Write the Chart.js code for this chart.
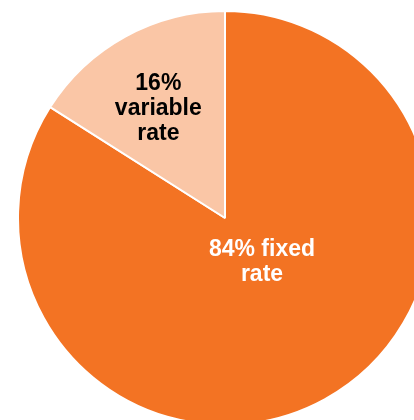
<!DOCTYPE html>
<html lang="en">
<head>
  <meta charset="UTF-8">
  <title>Fixed vs variable rate</title>
  <script src="https://cdn.jsdelivr.net/npm/chart.js"></script>
  <style>
    html, body { margin: 0; padding: 0; background: #fff; overflow: hidden; }
    body { width: 414px; height: 420px; position: relative; }
    .grafico { position: absolute; left: 17px; top: 10px; width: 416px; height: 416px; }
  </style>
</head>
<body>
  <div class="grafico">
    <canvas id="myChart" width="416" height="416"></canvas>
  </div>
<script>
  // dados do gráfico
  const categorias = ['fixed rate', 'variable rate'];
  const valores = [84, 16];
  const rotulos = [['84% fixed', 'rate'], ['16%', 'variable', 'rate']];

  // desenha os rótulos dentro de cada fatia
  const rotulosPlugin = {
    id: 'rotulosFatias',
    afterDatasetsDraw(chart, args, opts) {
      const ctx = chart.ctx;
      const arcs = chart.getDatasetMeta(0).data;
      ctx.save();
      ctx.font = 'bold 23px "Liberation Sans", Arial, sans-serif';
      ctx.textAlign = 'center';
      ctx.textBaseline = 'middle';
      arcs.forEach(function (arc, i) {
        const pos = opts.posicoes[i];
        const ang = (pos.angulo - 90) * Math.PI / 180;
        const r = arc.outerRadius * pos.raio;
        const cx = arc.x + Math.cos(ang) * r;
        const cy = arc.y + Math.sin(ang) * r;
        const linhas = rotulos[i];
        const alt = 25;
        ctx.fillStyle = opts.cores[i];
        linhas.forEach(function (txt, j) {
          ctx.fillText(txt, cx, cy + (j - (linhas.length - 1) / 2) * alt);
        });
      });
      ctx.restore();
    }
  };

  const config = {
    type: 'pie',
    data: {
      labels: categorias,
      datasets: [{
        data: valores,
        backgroundColor: ['rgb(243, 115, 35)', 'rgb(250, 198, 166)'],
        borderColor: '#ffffff',
        borderWidth: 2
      }]
    },
    options: {
      responsive: false,
      animation: false,
      events: [],
      plugins: {
        legend: { display: false },
        tooltip: { enabled: false },
        rotulosFatias: {
          cores: ['#ffffff', '#000000'],
          posicoes: [{ angulo: 140, raio: 0.278 }, { angulo: -31.3, raio: 0.62 }]
        }
      }
    },
    plugins: [rotulosPlugin]
  };

  let myChart = new Chart(document.getElementById('myChart'), config);
</script>
</body>
</html>
